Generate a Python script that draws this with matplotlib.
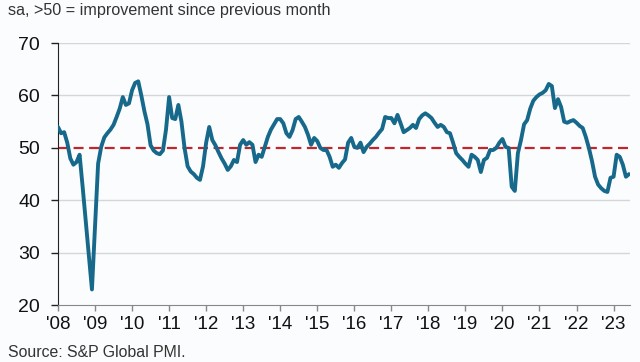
import numpy as np
import matplotlib.pyplot as plt

plt.rcParams['font.family'] = ['Liberation Sans', 'DejaVu Sans']

# monthly index values, Jan 2008 .. Jun 2023
v2008 = [54.0, 52.8, 53.0, 51.0, 48.0, 46.8, 47.3, 48.7, 42.5, 36.0, 29.5, 23.0]
v2009 = [35.0, 47.0, 50.2, 52.0, 52.8, 53.5, 54.4, 55.9, 57.5, 59.7, 58.2, 58.5]
v2010 = [61.0, 62.4, 62.7, 60.0, 57.0, 54.5, 50.5, 49.5, 49.0, 48.8, 49.5, 53.5]
v2011 = [59.7, 55.7, 55.5, 58.2, 55.0, 50.0, 46.5, 45.5, 45.0, 44.3, 43.9, 46.5]
v2012 = [51.0, 54.0, 51.5, 50.5, 49.2, 48.0, 47.0, 45.8, 46.5, 47.7, 47.3, 50.6]
v2013 = [51.5, 50.6, 51.1, 50.6, 47.3, 48.7, 48.3, 50.2, 52.1, 53.5, 54.5, 55.5]
v2014 = [55.5, 54.7, 52.8, 52.1, 53.4, 55.5, 55.9, 55.0, 54.0, 52.5, 50.6, 51.9]
v2015 = [51.3, 50.0, 49.6, 49.6, 48.3, 46.4, 46.8, 46.2, 47.1, 47.8, 51.0, 51.9]
v2016 = [50.2, 50.0, 51.0, 49.2, 50.2, 50.8, 51.5, 52.1, 52.9, 53.6, 55.9, 55.7]
v2017 = [55.7, 54.7, 56.3, 54.7, 53.0, 53.4, 53.8, 54.4, 53.8, 55.5, 56.2, 56.6]
v2018 = [56.2, 55.7, 54.8, 54.0, 54.4, 54.0, 53.0, 52.8, 51.0, 49.0, 48.3, 47.7]
v2019 = [47.0, 46.4, 48.7, 48.3, 47.7, 45.4, 47.7, 48.1, 49.6, 49.6, 50.0, 51.0]
v2020 = [51.7, 50.2, 50.0, 42.6, 41.8, 49.0, 51.5, 54.5, 55.3, 57.5, 59.0, 59.7]
v2021 = [60.2, 60.5, 61.0, 62.2, 61.8, 57.6, 59.3, 57.8, 55.0, 54.8, 55.1, 55.3]
v2022 = [54.8, 54.2, 53.8, 52.1, 50.0, 47.5, 44.5, 43.0, 42.3, 41.8, 41.6, 44.3]
v2023 = [44.5, 48.7, 48.3, 46.8, 44.5, 45.0]

values = (v2008 + v2009 + v2010 + v2011 + v2012 + v2013 + v2014 + v2015
          + v2016 + v2017 + v2018 + v2019 + v2020 + v2021 + v2022 + v2023)
years = list(range(2008, 2024))
year_labels = ["'%02d" % (y % 100) for y in years]

x = 2008 + np.arange(len(values)) / 12.0

bg = '#fbfcfd'
fig = plt.figure(figsize=(6.4, 3.62), dpi=100, facecolor=bg)
ax = fig.add_axes([0.0906, 0.157, 0.893, 0.724], facecolor=bg)

for g in [30, 40, 60, 70]:
    ax.axhline(g, color='#d4d6d8', lw=1.0, zorder=1)
ax.axhline(50, color='#c0272d', lw=1.6, ls=(0, (4.5, 2.5)), zorder=2)
ax.plot(x, values, color='#17698b', lw=2.8, solid_joinstyle='round',
        solid_capstyle='round', zorder=3)

ax.set_xlim(2008, 2023.43)
ax.set_ylim(20, 70)
ax.set_yticks([20, 30, 40, 50, 60, 70])
ax.set_xticks(years)
ax.set_xticklabels(year_labels)

for s in ['top', 'right']:
    ax.spines[s].set_visible(False)
ax.spines['left'].set_color('#222222')
ax.spines['bottom'].set_color('#888888')
ax.tick_params(axis='y', length=5, width=1, color='#222222', labelsize=14,
               pad=8, labelcolor='#111111')
ax.tick_params(axis='x', length=4, width=1, color='#888888', labelsize=13.5,
               pad=4, labelcolor='#111111')

fig.text(0.012, 0.972, 'sa, >50 = improvement since previous month',
         fontsize=11.6, color='#333333', va='center', ha='left')
fig.text(0.012, 0.025, 'Source: S&P Global PMI.',
         fontsize=11.4, color='#333333', va='center', ha='left')

fig.savefig('out.png', dpi=100, facecolor=bg)
